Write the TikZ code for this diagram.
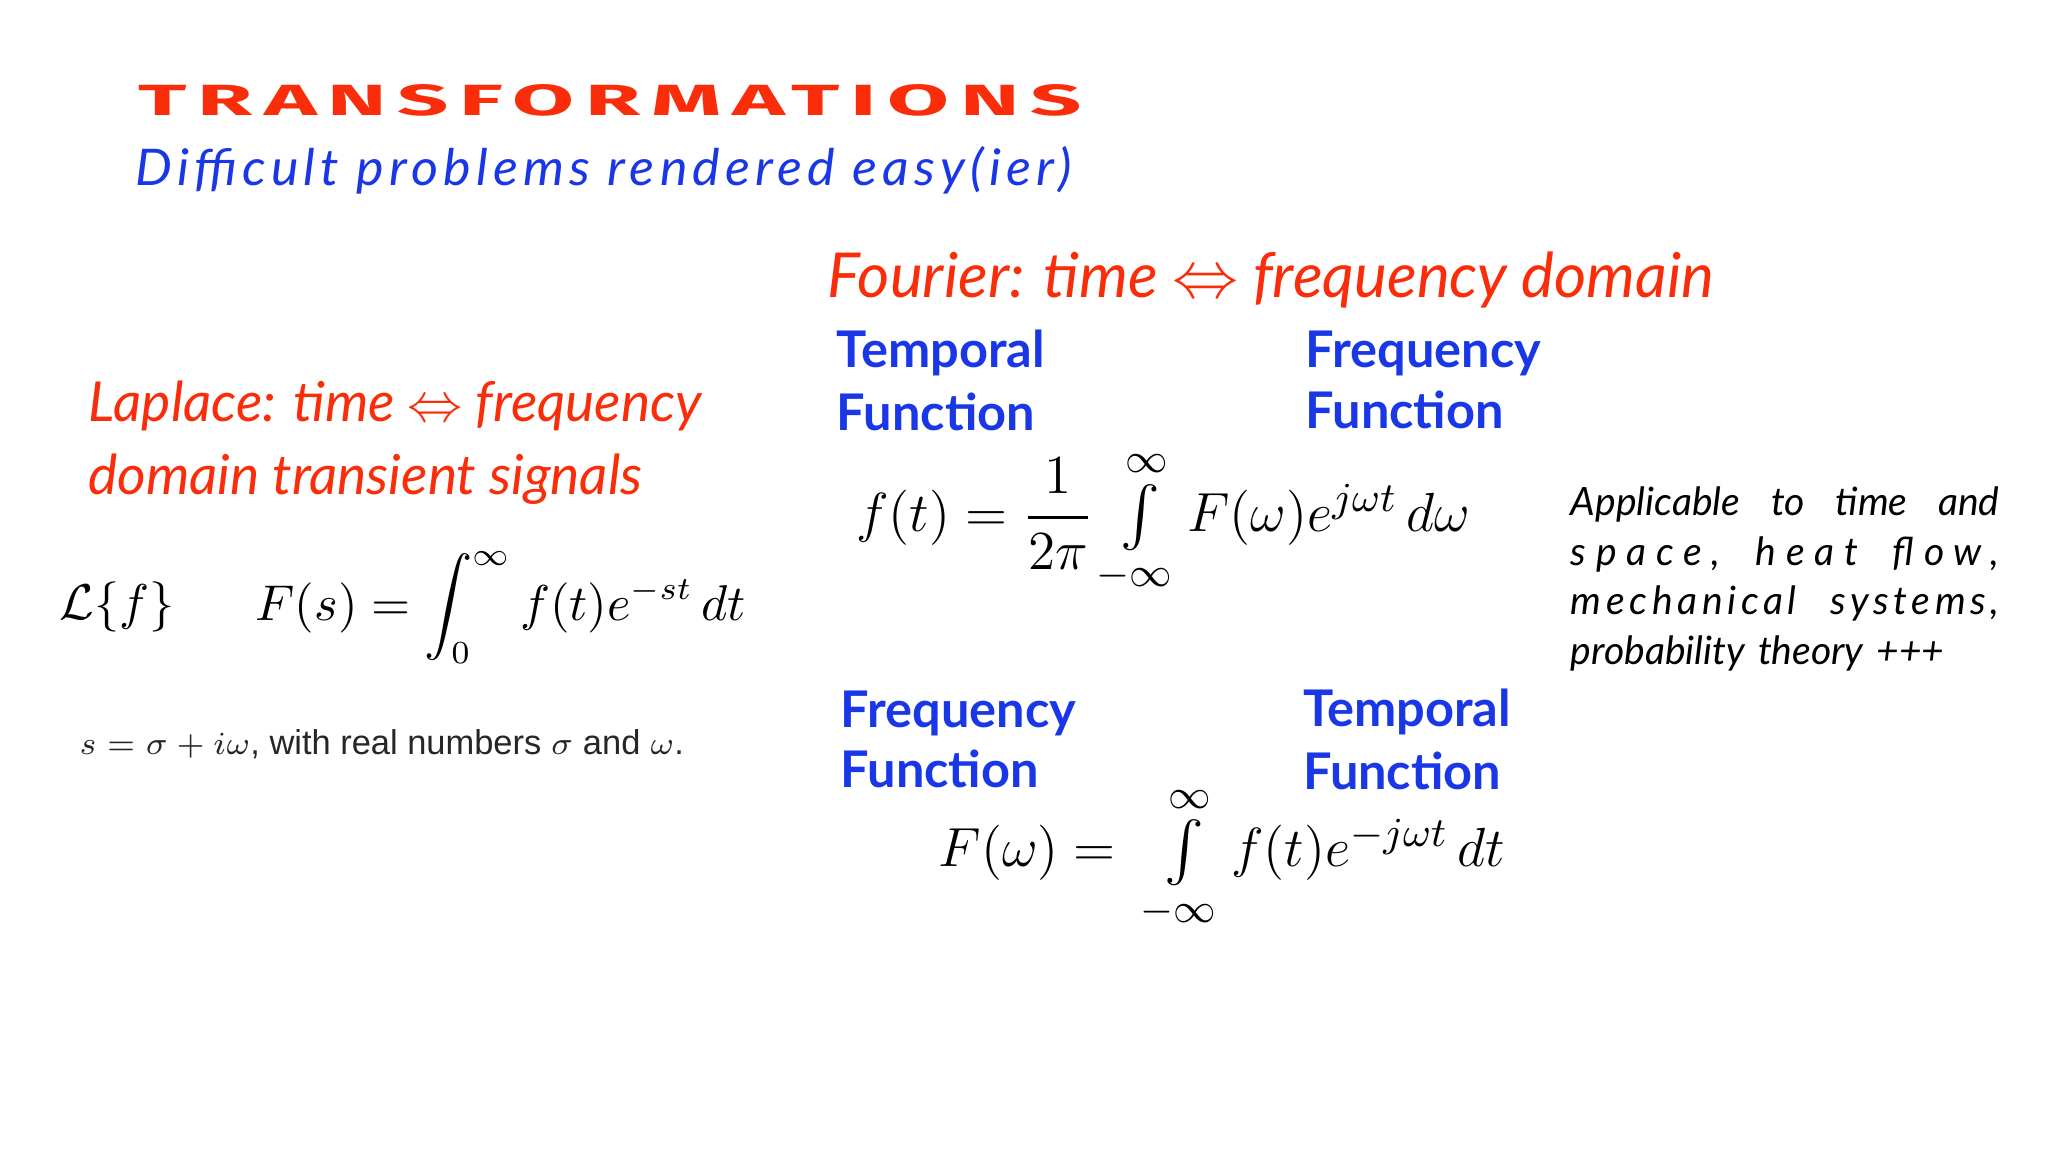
\documentclass[tikz,border=0pt]{standalone}
\usepackage{amsmath,amssymb}
\usepackage{fontspec}
\setmainfont{Lato}
\newfontfamily\titlefont[LetterSpace=12]{Fira Sans}
\newfontfamily\subfont[LetterSpace=10]{Lato}
\newfontfamily\wideA[LetterSpace=25]{Lato}
\newfontfamily\wideB[LetterSpace=12]{Lato}
\definecolor{tred}{RGB}{250,45,10}
\definecolor{tblue}{RGB}{25,55,230}
\begin{document}
\begin{tikzpicture}[x=0.01cm,y=-0.01cm,
  lbl/.style={anchor=west,inner sep=0pt,text=tblue,font=\fontsize{11}{13}\selectfont\bfseries},
  redt/.style={anchor=west,inner sep=0pt,text=tred,font=\fontsize{12}{15}\selectfont\itshape},
  mth/.style={anchor=west,inner sep=0pt}]
\useasboundingbox (0,0) rectangle (1568,882);
\node[anchor=west,inner sep=0pt,text=tred,font=\fontsize{10}{12}\selectfont\titlefont\bfseries,xscale=1.95,yscale=0.95] (title) at (105,77) {TRANSFORMATIONS};
\node[anchor=west,inner sep=0pt,text=tblue,font=\fontsize{11}{13}\selectfont\subfont\itshape,xscale=1.03] (sub) at (103,130) {Difficult problems rendered easy(ier)};
\node[redt,font=\fontsize{13.5}{15}\selectfont\itshape] (four) at (633,214) {Fourier: time $\Leftrightarrow$ frequency domain};
\node[lbl] (t1) at (640,270) {Temporal};
\node[lbl] (f1) at (640,315) {Function};
\node[lbl] (fr1) at (999,271) {Frequency};
\node[lbl] (f2) at (999,314) {Function};
\node[redt] (lap1) at (67,311) {Laplace: time $\Leftrightarrow$ frequency};
\node[redt] (lap2) at (67,367) {domain transient signals};
\node[mth,font=\fontsize{11}{14}\selectfont] (lf) at (45,465) {$\mathcal{L}\{f\}$};
\node[mth,font=\fontsize{10.5}{14}\selectfont] (lform) at (195,465) {$F(s)=\displaystyle\int_0^\infty f(t)e^{-st}\,dt$};
\node[mth,font=\fontsize{7.5}{9}\selectfont,text=black!85] (sdef) at (60,570) {\fontspec{Liberation Sans}$s=\sigma+i\omega$, with real numbers $\sigma$ and $\omega$.};
\node[mth,font=\fontsize{13}{16}\selectfont] (ff1) at (655,400) {$f(t)=\dfrac{1}{2\pi}\textstyle\int\limits_{-\infty}^{\infty}F(\omega)e^{j\omega t}\,d\omega$};
\node[anchor=north west,inner sep=0pt,text width=3.28cm,font=\fontsize{8.5}{10.8}\selectfont\itshape,align=left] (app) at (1202,372) {\leavevmode\hbox to 3.28cm{Applicable\hfill to\hfill time\hfill and}\\\leavevmode\hbox to 3.28cm{\wideA space,\hfill heat\hfill flow,}\\\leavevmode\hbox to 3.28cm{\wideB mechanical\hfill systems,}\\probability theory +++};
\node[lbl] (fr2) at (643,546) {Frequency};
\node[lbl] (f3) at (643,589) {Function};
\node[lbl] (t2) at (997,545) {Temporal};
\node[lbl] (f4) at (997,590) {Function};
\node[mth,font=\fontsize{13}{16}\selectfont] (ff2) at (718,657) {$F(\omega)=\;\textstyle\int\limits_{-\infty}^{\infty}f(t)e^{-j\omega t}\,dt$};
\end{tikzpicture}
\end{document}
